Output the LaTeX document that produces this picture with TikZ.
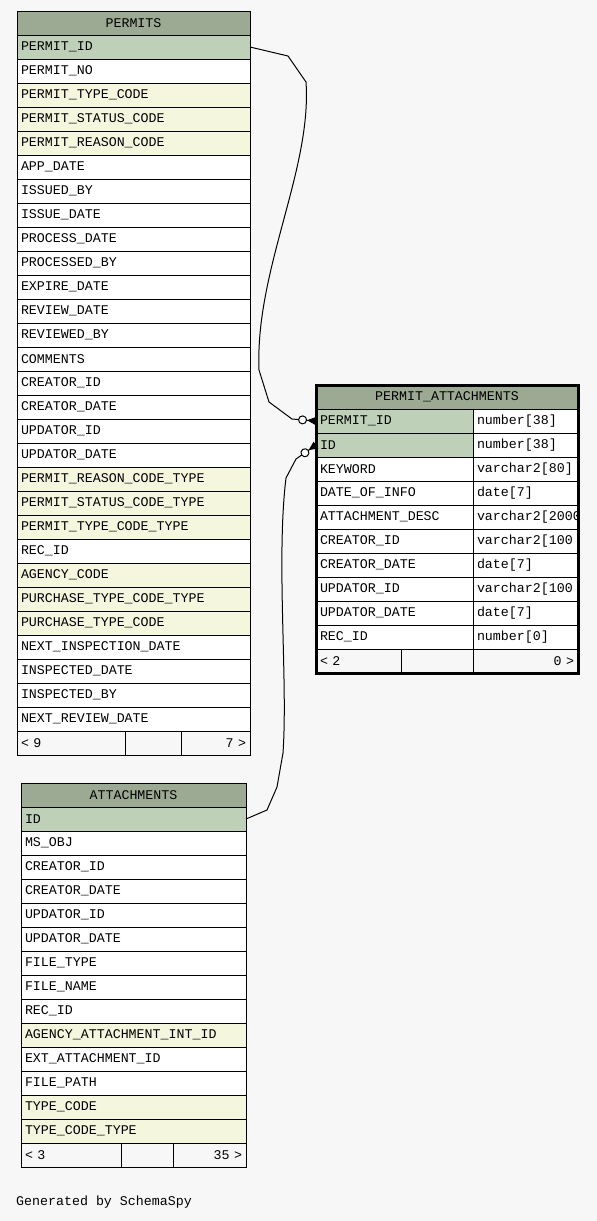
\documentclass[tikz,border=0pt]{standalone}
\usepackage{fontspec}
\setmonofont{Liberation Mono}
\usetikzlibrary{arrows.meta,positioning,fit}
\definecolor{pagebg}{RGB}{247,247,247}
\definecolor{headgreen}{RGB}{156,170,148}
\definecolor{pkgreen}{RGB}{190,209,184}
\definecolor{fkyellow}{RGB}{244,247,222}

\begin{document}
\begin{tikzpicture}[x=1pt, y=-1pt, node distance=0pt, every node/.style={font={\fontsize{13.3}{16}\selectfont\ttfamily}}, cell/.style={draw,line width=1pt,outer sep=0pt,inner xsep=4pt,inner ysep=0pt,minimum height=24pt,align=left,fill=white}, head/.style={cell,fill=headgreen,align=center}, pk/.style={cell,fill=pkgreen}, fk/.style={cell,fill=fkyellow}, foot/.style={cell,fill=pagebg}, fkline/.style={line width=1pt,-{Circle[open,fill=white,length=9pt,width=9pt] Triangle[reversed,length=9pt,width=8pt]}}]
\fill[pagebg] (0,0) rectangle (597,1221);
\useasboundingbox (0,0) rectangle (597,1221);

% PERMITS
\begin{scope}[cell/.append style={text width=225pt}]
\node[head,anchor=north west] (permits) at (17,11) {PERMITS};
\node[pk,below=of permits] (p1) {PERMIT\_ID};
\node[cell,below=of p1] (p2) {PERMIT\_NO};
\node[fk,below=of p2] (p3) {PERMIT\_TYPE\_CODE};
\node[fk,below=of p3] (p4) {PERMIT\_STATUS\_CODE};
\node[fk,below=of p4] (p5) {PERMIT\_REASON\_CODE};
\node[cell,below=of p5] (p6) {APP\_DATE};
\node[cell,below=of p6] (p7) {ISSUED\_BY};
\node[cell,below=of p7] (p8) {ISSUE\_DATE};
\node[cell,below=of p8] (p9) {PROCESS\_DATE};
\node[cell,below=of p9] (p10) {PROCESSED\_BY};
\node[cell,below=of p10] (p11) {EXPIRE\_DATE};
\node[cell,below=of p11] (p12) {REVIEW\_DATE};
\node[cell,below=of p12] (p13) {REVIEWED\_BY};
\node[cell,below=of p13] (p14) {COMMENTS};
\node[cell,below=of p14] (p15) {CREATOR\_ID};
\node[cell,below=of p15] (p16) {CREATOR\_DATE};
\node[cell,below=of p16] (p17) {UPDATOR\_ID};
\node[cell,below=of p17] (p18) {UPDATOR\_DATE};
\node[fk,below=of p18] (p19) {PERMIT\_REASON\_CODE\_TYPE};
\node[fk,below=of p19] (p20) {PERMIT\_STATUS\_CODE\_TYPE};
\node[fk,below=of p20] (p21) {PERMIT\_TYPE\_CODE\_TYPE};
\node[cell,below=of p21] (p22) {REC\_ID};
\node[fk,below=of p22] (p23) {AGENCY\_CODE};
\node[fk,below=of p23] (p24) {PURCHASE\_TYPE\_CODE\_TYPE};
\node[fk,below=of p24] (p25) {PURCHASE\_TYPE\_CODE};
\node[cell,below=of p25] (p26) {NEXT\_INSPECTION\_DATE};
\node[cell,below=of p26] (p27) {INSPECTED\_DATE};
\node[cell,below=of p27] (p28) {INSPECTED\_BY};
\node[cell,below=of p28] (p29) {NEXT\_REVIEW\_DATE};
\end{scope}
\node[foot,anchor=north west,text width=100pt] (pf1) at (p29.south west) {< 9};
\node[foot,right=of pf1,text width=48pt] (pf2) {};
\node[foot,right=of pf2,text width=61pt,align=right] (pf3) {7 >};

% ATTACHMENTS
\begin{scope}[cell/.append style={text width=217pt}]
\node[head,anchor=north west] (attachments) at (21,783) {ATTACHMENTS};
\node[pk,below=of attachments] (a1) {ID};
\node[cell,below=of a1] (a2) {MS\_OBJ};
\node[cell,below=of a2] (a3) {CREATOR\_ID};
\node[cell,below=of a3] (a4) {CREATOR\_DATE};
\node[cell,below=of a4] (a5) {UPDATOR\_ID};
\node[cell,below=of a5] (a6) {UPDATOR\_DATE};
\node[cell,below=of a6] (a7) {FILE\_TYPE};
\node[cell,below=of a7] (a8) {FILE\_NAME};
\node[cell,below=of a8] (a9) {REC\_ID};
\node[fk,below=of a9] (a10) {AGENCY\_ATTACHMENT\_INT\_ID};
\node[cell,below=of a10] (a11) {EXT\_ATTACHMENT\_ID};
\node[cell,below=of a11] (a12) {FILE\_PATH};
\node[fk,below=of a12] (a13) {TYPE\_CODE};
\node[fk,below=of a13] (a14) {TYPE\_CODE\_TYPE};
\end{scope}
\node[foot,anchor=north west,text width=92pt] (af1) at (a14.south west) {< 3};
\node[foot,right=of af1,text width=44pt] (af2) {};
\node[foot,right=of af2,text width=65pt,align=right] (af3) {35 >};

% PERMIT_ATTACHMENTS
\node[head,anchor=north west,text width=254pt] (pa) at (316,385) {PERMIT\_ATTACHMENTS};
\begin{scope}[cell/.append style={text width=149pt}]
\node[pk,anchor=north west] (pa1) at (pa.south west) {PERMIT\_ID};
\node[pk,below=of pa1] (pa2) {ID};
\node[cell,below=of pa2] (pa3) {KEYWORD};
\node[cell,below=of pa3] (pa4) {DATE\_OF\_INFO};
\node[cell,below=of pa4] (pa5) {ATTACHMENT\_DESC};
\node[cell,below=of pa5] (pa6) {CREATOR\_ID};
\node[cell,below=of pa6] (pa7) {CREATOR\_DATE};
\node[cell,below=of pa7] (pa8) {UPDATOR\_ID};
\node[cell,below=of pa8] (pa9) {UPDATOR\_DATE};
\node[cell,below=of pa9] (pa10) {REC\_ID};
\end{scope}
\begin{scope}[cell/.append style={text width=97pt}]
\node[cell,right=of pa1] (pt1) {number[38]};
\node[cell,right=of pa2] (pt2) {number[38]};
\node[cell,right=of pa3] (pt3) {varchar2[80]};
\node[cell,right=of pa4] (pt4) {date[7]};
\node[cell,right=of pa5] (pt5) {varchar2[2000};
\node[cell,right=of pa6] (pt6) {varchar2[100};
\node[cell,right=of pa7] (pt7) {date[7]};
\node[cell,right=of pa8] (pt8) {varchar2[100};
\node[cell,right=of pa9] (pt9) {date[7]};
\node[cell,right=of pa10] (pt10) {number[0]};
\end{scope}
\node[foot,anchor=north west,text width=77pt] (paf1) at (pa10.south west) {< 2};
\node[foot,right=of paf1,text width=64pt] (paf2) {};
\node[foot,right=of paf2,text width=97pt,align=right] (paf3) {0 >};
\node[draw,line width=3pt,inner sep=0pt,fit=(pa)(paf3)] (pabox) {};

% relationships
\draw[fkline] (p1.east) -- (288,56) -- (306,82) .. controls (312,170) and (255,270) .. (259,370) -- (269,402) -- (292,419) -- (pa1.west);
\draw[fkline] (a1.east) -- (267,810) -- (277,787) -- (283,753) .. controls (288,680) and (276,560) .. (286,478) -- (296,459) -- (pa2.west);

\node[anchor=west,inner sep=0pt] (credit) at (16,1202) {Generated by SchemaSpy};
\end{tikzpicture}
\end{document}
